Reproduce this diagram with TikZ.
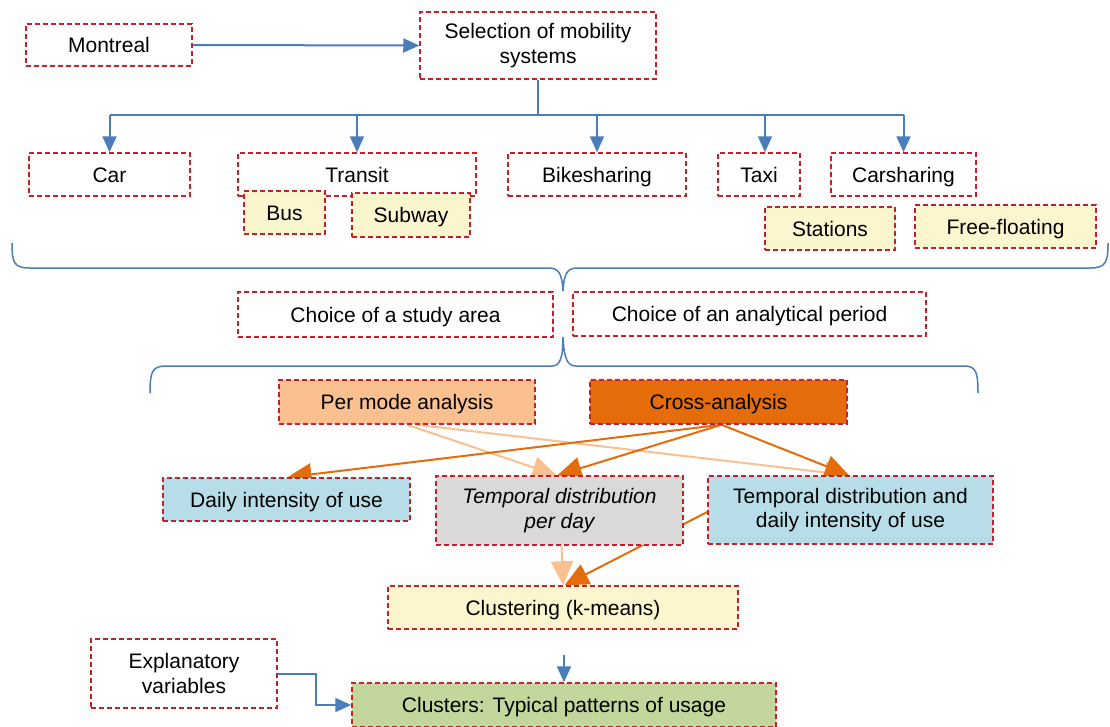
\documentclass[tikz,border=0pt]{standalone}
\usepackage{fontspec}
\setmainfont{Liberation Sans}
\usetikzlibrary{arrows.meta,backgrounds}
\definecolor{dred}{RGB}{200,32,40}
\definecolor{lblue}{RGB}{74,126,187}
\definecolor{yfill}{RGB}{252,246,206}
\definecolor{lorange}{RGB}{250,192,144}
\definecolor{dorange}{RGB}{228,108,10}
\definecolor{bfill}{RGB}{183,222,232}
\definecolor{gfill}{RGB}{217,217,217}
\definecolor{grfill}{RGB}{195,214,155}
\tikzset{
  box/.style={draw=dred, dash pattern=on 5pt off 3pt, line width=1.5pt, inner sep=0pt,
    font=\fontsize{21}{24.5}\selectfont, align=center, text=black},
  onel/.style={box, text height=15pt, text depth=0pt},
  barrow/.style={draw=lblue, line width=2pt, -{Triangle[length=16pt,width=14pt]}},
  bline/.style={draw=lblue, line width=2pt},
  larrow/.style={draw=lorange, line width=2pt, -{Triangle[length=24pt,width=22pt]}},
  darrow/.style={draw=dorange, line width=2pt, -{Triangle[length=24pt,width=22pt]}},
}
\begin{document}
\begin{tikzpicture}[x=1pt,y=-1pt]
\useasboundingbox (0,0) rectangle (1110,726);
% top
\node[onel, minimum width=166pt, minimum height=42pt] (mtl) at (109,45) {Montreal};
\node[box, minimum width=236pt, minimum height=67pt] (sel) at (538,45.5) {Selection of mobility\\systems};
\node[onel, minimum width=161pt, minimum height=43pt] (car) at (109.5,174.5) {Car};
\node[onel, minimum width=238pt, minimum height=43pt] (tra) at (357,174.5) {Transit};
\node[onel, minimum width=178pt, minimum height=43pt] (bik) at (597,174.5) {Bikesharing};
\node[onel, minimum width=82pt, minimum height=43pt] (tax) at (759,174.5) {Taxi};
\node[onel, minimum width=145pt, minimum height=43pt] (cas) at (903.5,174.5) {Carsharing};
\node[onel, fill=yfill, minimum width=81pt, minimum height=43pt] (bus) at (284.5,212.5) {Bus};
\node[onel, fill=yfill, minimum width=118pt, minimum height=44pt] (sub) at (411,215) {Subway};
\node[onel, fill=yfill, minimum width=130pt, minimum height=43pt] (sta) at (830,228.5) {Stations};
\node[onel, fill=yfill, minimum width=181pt, minimum height=43pt] (ffl) at (1005.5,226.5) {Free-floating};
% choices
\node[onel, minimum width=315pt, minimum height=45pt] (csa) at (395.5,314.5) {Choice of a study area};
\node[onel, minimum width=353pt, minimum height=44pt] (cap) at (749.5,314) {Choice of an analytical period};
% analysis
\node[onel, fill=lorange, minimum width=256pt, minimum height=44pt] (pma) at (407,402) {Per mode analysis};
\node[onel, fill=dorange, minimum width=257pt, minimum height=44pt] (cra) at (718.5,402) {Cross-analysis};
\node[onel, fill=bfill, minimum width=247pt, minimum height=43pt] (diu) at (286.5,499.5) {Daily intensity of use};
\node[box, fill=gfill, minimum width=247pt, minimum height=69pt] (tpd) at (559.5,510.5) {\itshape Temporal distribution\\\itshape per day};
\node[box, fill=bfill, minimum width=285pt, minimum height=68pt] (tdi) at (850.5,510) {Temporal distribution and\\daily intensity of use};
\node[onel, fill=yfill, minimum width=350pt, minimum height=43pt] (clu) at (563,607.5) {Clustering (k-means)};
\node[box, minimum width=186pt, minimum height=69pt] (exv) at (184,673.5) {Explanatory\\variables};
\node[onel, fill=grfill, minimum width=424pt, minimum height=44pt] (cls) at (564,705) {Clusters: Typical patterns of usage};
% blue connectors
\draw[barrow] (mtl.east) -- (sel.west);
\coordinate (tj) at (538,115);
\draw[bline] (sel.south) -- (tj);
\draw[bline] (car.north |- tj) -- (cas.north |- tj);
\draw[barrow] (car.north |- tj) -- (car.north);
\draw[barrow] (tra.north |- tj) -- (tra.north);
\draw[barrow] (bik.north |- tj) -- (bik.north);
\draw[barrow] ([xshift=6pt]tax.north |- tj) -- ([xshift=6pt]tax.north);
\draw[barrow] (cas.north |- tj) -- (cas.north);
\coordinate (cs) at (564,655);
\draw[barrow] (cs) -- (cls.north);
\draw[barrow] (exv.east) -- (316,673.5) -- (316,705) -- (cls.west);
% braces
\draw[lblue, line width=1.5pt] (12,243) .. controls (12,263) and (14,268) .. (30,268) -- (548,268)
  .. controls (558,268) and (562,272) .. (563,291)
  .. controls (564,272) and (568,268) .. (578,268) -- (1090,268)
  .. controls (1106,268) and (1108,262) .. (1108,243);
\draw[lblue, line width=1.5pt] (150,393) .. controls (150,372) and (152,366) .. (166,366) -- (552,366)
  .. controls (560,366) and (563,358) .. (563,337)
  .. controls (564,358) and (567,366) .. (576,366) -- (964,366)
  .. controls (976,366) and (978,372) .. (978,393);
% orange connectors
\begin{scope}[on background layer]
\fill[white] (0,0) rectangle (1110,726);
\draw[larrow] (pma.south) -- ([xshift=-3pt]tpd.north);
\draw[larrow] ([xshift=10pt]pma.south) -- ([xshift=-1.5pt]tdi.north);
\draw[darrow] ([xshift=3pt]cra.south) -- ([xshift=1pt]diu.north);
\draw[darrow] ([xshift=3pt]cra.south) -- ([xshift=-2pt]tpd.north);
\draw[darrow] ([xshift=3pt]cra.south) -- ([xshift=-1.5pt]tdi.north);
\draw[larrow] ([xshift=2pt]tpd.south) -- (clu.north);
\draw[darrow] ([yshift=-2pt]tdi.west) -- ([xshift=1.5pt]clu.north);
\end{scope}
\end{tikzpicture}
\end{document}
